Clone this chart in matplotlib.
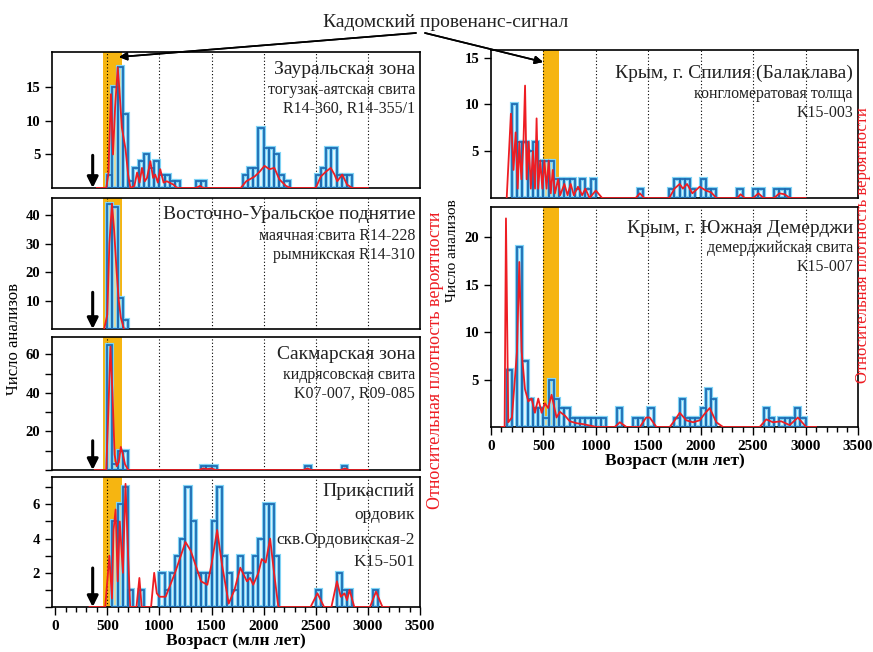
import matplotlib.pyplot as plt
from matplotlib.ticker import MultipleLocator

plt.rcParams['font.family'] = 'Liberation Serif'

BIN = 50  # histogram bin width, Ma

# Зауральская зона
zaur_edges = [500, 550, 600, 650, 700, 750, 800, 850, 900, 950, 1000, 1050, 1100, 1150,
              1350, 1400, 1800, 1850, 1900, 1950, 2000, 2050, 2100, 2150, 2200,
              2500, 2550, 2600, 2650, 2700, 2750, 2800]
zaur_counts = [2, 15, 18, 11, 1, 3, 4, 5, 3, 4, 2, 2, 1, 1,
               1, 1, 2, 3, 3, 9, 6, 6, 5, 2, 1,
               2, 3, 6, 6, 2, 2, 2]
zaur_pdp_age = [400, 490, 510, 535, 555, 575, 600, 615, 640, 675, 700, 722, 760, 786, 810, 833,
                860, 881, 913, 940, 960, 985, 1008, 1040, 1071, 1135, 1170, 1350, 1389, 1420,
                1780, 1833, 1913, 1960, 2008, 2056, 2103, 2150, 2214, 2260, 2500, 2548, 2595,
                2643, 2680, 2706, 2754, 2800, 2850, 3000]
zaur_pdp = [0, 0, 2, 14, 5, 12, 18, 15, 9, 5.8, 2, 0, 0.3, 2.3, 0.8, 3,
            1, 1.5, 4, 1.5, 2, 0.8, 2.8, 0.8, 1, 0.5, 0, 0, 0.3, 0,
            0, 1, 1.7, 2.4, 3.3, 2.8, 3, 1.3, 0.3, 0, 0, 1.7, 2.4,
            3, 2, 1, 2, 0.5, 0, 0]

# Восточно-Уральское поднятие
eural_edges = [500, 550, 600, 650]
eural_counts = [44, 43, 11, 3]
eural_pdp_age = [470, 500, 520, 545, 565, 590, 610, 630, 660]
eural_pdp = [0, 5, 30, 44, 35, 20, 10, 4, 0]

# Сакмарская зона
sakm_edges = [500, 550, 600, 650, 1400, 1450, 1500, 2400, 2750]
sakm_counts = [65, 3, 10, 10, 2, 2, 2, 2, 2]
sakm_pdp_age = [380, 490, 510, 530, 550, 570, 590, 610, 630, 650, 670, 700,
                1380, 1420, 1460, 1500, 1540, 2380, 2420, 2460, 2740, 2780, 2820, 3000]
sakm_pdp = [0, 0, 30, 64, 40, 8, 2, 4, 12, 8, 3, 0,
            0, 0.8, 0.5, 0.8, 0, 0, 0.8, 0, 0, 0.8, 0, 0]

# Прикаспий
casp_edges = [550, 600, 650, 700, 800, 1000, 1050, 1100, 1150, 1200, 1250, 1300, 1350,
              1400, 1450, 1500, 1550, 1600, 1650, 1700, 1750, 1800, 1850, 1900, 1950,
              2000, 2050, 2100, 2500, 2700, 2750, 2800, 3050]
casp_counts = [5, 6, 7, 1, 1, 2, 1, 2, 3, 4, 7, 5, 2,
               2, 2, 5, 7, 3, 2, 1, 3, 2, 2, 3, 4,
               6, 6, 3, 1, 2, 1, 1, 1]
casp_pdp_age = [330, 480, 520, 545, 560, 580, 600, 620, 650, 675, 700, 720, 780, 808, 830,
                920, 950, 975, 1000, 1060, 1150, 1250, 1300, 1400, 1460, 1500, 1554, 1600,
                1665, 1720, 1776, 1840, 1870, 1900, 1950, 1982, 2020, 2062, 2100, 2141,
                2450, 2516, 2580, 2650, 2703, 2740, 2776, 2800, 2824, 2870, 3020, 3078, 3140, 3200]
casp_pdp = [0, 0, 3, 0.5, 4.5, 5.7, 1.5, 5, 2, 7.2, 3, 0, 0, 1.7, 0,
            0, 2, 0.8, 0.6, 0.6, 2, 3.8, 3.3, 1.5, 1.3, 2.5, 4.5, 2.5,
            0.2, 1, 2.3, 1.5, 1.7, 1.3, 2, 2.8, 2.6, 4, 2, 0,
            0, 0.8, 0, 0, 1.5, 0.6, 0.8, 0.4, 1.0, 0, 0, 0.9, 0, 0]

# Крым, г. Спилия
spil_edges = [200, 250, 300, 350, 400, 450, 500, 550, 600, 650, 700, 750, 800, 850, 900, 950,
              1400, 1700, 1750, 1800, 1850, 1900, 2000, 2050, 2100, 2350, 2500, 2550,
              2700, 2750, 2800]
spil_counts = [10, 6, 6, 5, 6, 4, 4, 4, 2, 2, 2, 2, 1, 2, 1, 2,
               1, 1, 2, 2, 2, 1, 2, 1, 1, 1, 1, 1,
               1, 1, 1]
spil_pdp_age = [150, 190, 215, 235, 255, 270, 290, 310, 325, 340, 360, 380, 400, 420, 435,
                450, 470, 490, 510, 530, 550, 570, 590, 610, 640, 660, 700, 730, 760, 790,
                830, 870, 900, 940, 1000, 1060, 1380, 1420, 1460, 1700, 1750, 1800, 1830,
                1870, 1920, 1990, 2050, 2100, 2150, 2350, 2380, 2420, 2500, 2550, 2600,
                2700, 2750, 2800, 2850, 3000]
spil_pdp = [0, 9, 3, 7, 1, 6, 2, 6, 12, 2, 6, 1, 5, 1, 8.5,
            1, 4, 1, 4, 1, 4, 0.5, 3, 0.5, 2, 0.3, 1.5, 0.3, 1.5, 0.3,
            1.2, 0.3, 1, 0, 0.8, 0, 0, 0.5, 0, 0, 1, 1.5, 1,
            1.5, 0.5, 1.2, 0.8, 0.6, 0, 0, 0.4, 0, 0, 0.5, 0,
            0, 0.5, 0.4, 0, 0]

# Крым, г. Южная Демерджи
dem_edges = [150, 250, 300, 350, 400, 450, 500, 550, 600, 650, 700, 750, 800, 850, 900, 950,
             1000, 1050, 1200, 1350, 1400, 1500, 1750, 1800, 1850, 1900, 1950, 2000, 2050,
             2100, 2600, 2650, 2750, 2800, 2850, 2900, 2950]
dem_counts = [6, 19, 7, 3, 2, 2, 1, 5, 3, 2, 2, 1, 1, 1, 1, 1,
              1, 1, 2, 1, 1, 2, 1, 3, 1, 1, 1, 2, 4,
              3, 2, 1, 1, 1, 1, 2, 1]
dem_pdp_age = [100, 130, 143, 165, 200, 248, 270, 292, 324, 356, 387, 419, 451, 483, 514,
               545, 578, 625, 657, 705, 752, 816, 879, 1006, 1180, 1229, 1292, 1420, 1480,
               1514, 1578, 1705, 1752, 1800, 1863, 1927, 1990, 2038, 2086, 2149, 2213, 2562,
               2625, 2689, 2768, 2848, 2927, 3006, 3100]
dem_pdp = [0, 0, 22, 0.5, 1, 8, 17.4, 8, 4, 2.7, 3, 1.5, 3, 1.5, 2.5,
           2, 3.4, 1, 1.6, 1.2, 0.6, 0.4, 0.3, 0, 0, 0.5, 0, 0, 1,
           1, 0, 0, 0.7, 1.5, 0.7, 0.5, 0.7, 1.4, 2, 0.5, 0, 0,
           0.8, 0.5, 0.6, 0.2, 1, 0, 0]

left_band = (460, 645)
right_band = (500, 650)
arrow_age = 360

fig = plt.figure(figsize=(8.73, 6.52), dpi=100)


def panel(rect, edges, counts, pdp_age, pdp, ylim, yticks, band, xlim,
          labels, minor=None, arrow_top=None, bottom=False):
    ax = fig.add_axes(rect)
    ax.axvspan(*band, color='#f6b511', lw=0, zorder=0)
    for x in range(500, 3500, 500):
        ax.axvline(x, color='k', ls=(0, (1, 2)), lw=0.8, zorder=1)
    # cyan halo under the blue outline
    ax.bar(edges, counts, width=BIN, align='edge', facecolor=(0.9, 0.96, 0.99, 0.6),
           edgecolor='#7fd3f5', lw=3.0, zorder=2)
    ax.bar(edges, counts, width=BIN, align='edge', facecolor='none',
           edgecolor='#1f6db3', lw=1.3, zorder=3)
    ax.plot(pdp_age, pdp, color='#ee1d23', lw=1.3, zorder=4)
    ax.set_xlim(*xlim)
    ax.set_ylim(*ylim)
    ax.set_yticks(yticks)
    if minor:
        ax.yaxis.set_minor_locator(MultipleLocator(minor))
    ax.tick_params(axis='y', which='both', direction='out', length=5, width=1,
                   labelsize=10.5)
    for t in ax.get_yticklabels():
        t.set_fontweight('bold')
    if bottom:
        ax.set_xticks(range(0, 3501, 500))
        ax.xaxis.set_minor_locator(MultipleLocator(100))
        ax.tick_params(axis='x', which='major', direction='out', length=6, width=1,
                       labelsize=11)
        ax.tick_params(axis='x', which='minor', direction='out', length=3.5, width=1)
        for t in ax.get_xticklabels():
            t.set_fontweight('bold')
        ax.set_xlabel('Возраст (млн лет)', fontsize=12.5, fontweight='bold', labelpad=0)
    else:
        ax.tick_params(axis='x', which='both', bottom=False, labelbottom=False)
    for s in ax.spines.values():
        s.set_linewidth(1.2)
    for text, dy, size in labels:
        ax.annotate(text, xy=(1, 1), xycoords='axes fraction', xytext=(-5, dy),
                    textcoords='offset pixels', ha='right', va='center', fontsize=size,
                    color='#222222')
    if arrow_top is not None:
        ax.annotate('', xy=(arrow_age, 0.0), xycoords=('data', 'axes fraction'),
                    xytext=(arrow_age, arrow_top), textcoords=('data', 'axes fraction'),
                    arrowprops=dict(arrowstyle='-|>', color='k', lw=2.2,
                                    mutation_scale=16, shrinkA=0, shrinkB=0), zorder=6)
    return ax


lx = (-30, 3500)
rx = (0, 3500)

panel([0.0596, 0.7117, 0.4215, 0.2086], zaur_edges, zaur_counts, zaur_pdp_age, zaur_pdp,
      (0, 20.3), [5, 10, 15], left_band, lx,
      [('Зауральская зона', -18, 14), ('тогузак-аятская свита', -38, 11.5),
       ('R14-360, R14-355/1', -57, 11.5)], arrow_top=0.24)

panel([0.0596, 0.4954, 0.4215, 0.2009], eural_edges, eural_counts, eural_pdp_age, eural_pdp,
      (0, 46), [10, 20, 30, 40], left_band, lx,
      [('Восточно-Уральское поднятие', -16, 14), ('маячная свита R14-228', -38, 11.5),
       ('рымникская R14-310', -57, 11.5)], arrow_top=0.28)

panel([0.0596, 0.2791, 0.4215, 0.2040], sakm_edges, sakm_counts, sakm_pdp_age, sakm_pdp,
      (0, 69), [20, 40, 60], left_band, lx,
      [('Сакмарская зона', -17, 14), ('кидрясовская свита', -38, 11.5),
       ('K07-007, R09-085', -57, 11.5)], minor=10, arrow_top=0.22)

panel([0.0596, 0.0690, 0.4215, 0.1994], casp_edges, casp_counts, casp_pdp_age, casp_pdp,
      (0, 7.6), [2, 4, 6], left_band, lx,
      [('Прикаспий', -14, 14), ('ордовик', -38, 12.5), ('скв.Ордовикская-2', -63, 12.5),
       ('K15-501', -85, 12.5)], minor=1, arrow_top=0.3, bottom=True)

panel([0.5624, 0.6963, 0.4204, 0.2270], spil_edges, spil_counts, spil_pdp_age, spil_pdp,
      (0, 15.8), [5, 10, 15], right_band, rx,
      [('Крым, г. Спилия (Балаклава)', -23, 14), ('конгломератовая толща', -44, 11.5),
       ('K15-003', -63, 11.5)])

panel([0.5624, 0.3451, 0.4204, 0.3374], dem_edges, dem_counts, dem_pdp_age, dem_pdp,
      (0, 23.2), [5, 10, 15, 20], right_band, rx,
      [('Крым, г. Южная Демерджи', -21, 14), ('демерджийская свита', -41, 11.5),
       ('K15-007', -60, 11.5)], bottom=True)

# axis titles
fig.text(0.016, 0.48, 'Число анализов', rotation=90, ha='center', va='center', fontsize=12)
fig.text(0.518, 0.615, 'Число анализов', rotation=90, ha='center', va='center', fontsize=11)
fig.text(0.499, 0.448, 'Относительная плотность вероятности', rotation=90,
         ha='center', va='center', fontsize=13, color='#ee1d23')
fig.text(0.989, 0.624, 'Относительная плотность вероятности', rotation=90,
         ha='center', va='center', fontsize=12, color='#ee1d23')

# Cadomian signal callout
fig.text(0.510, 0.966, 'Кадомский провенанс-сигнал', ha='center', va='center', fontsize=14,
         color='#222222')
arrow_kw = dict(arrowstyle='-|>', color='k', lw=1.2, mutation_scale=12, shrinkA=0, shrinkB=0)
fig.add_artist(plt.annotate('', xy=(0.1363, 0.9126), xycoords='figure fraction',
                            xytext=(0.4765, 0.9494), textcoords='figure fraction',
                            arrowprops=arrow_kw))
fig.add_artist(plt.annotate('', xy=(0.622, 0.9049), xycoords='figure fraction',
                            xytext=(0.4868, 0.9494), textcoords='figure fraction',
                            arrowprops=arrow_kw))

fig.savefig('out.png', dpi=100)
